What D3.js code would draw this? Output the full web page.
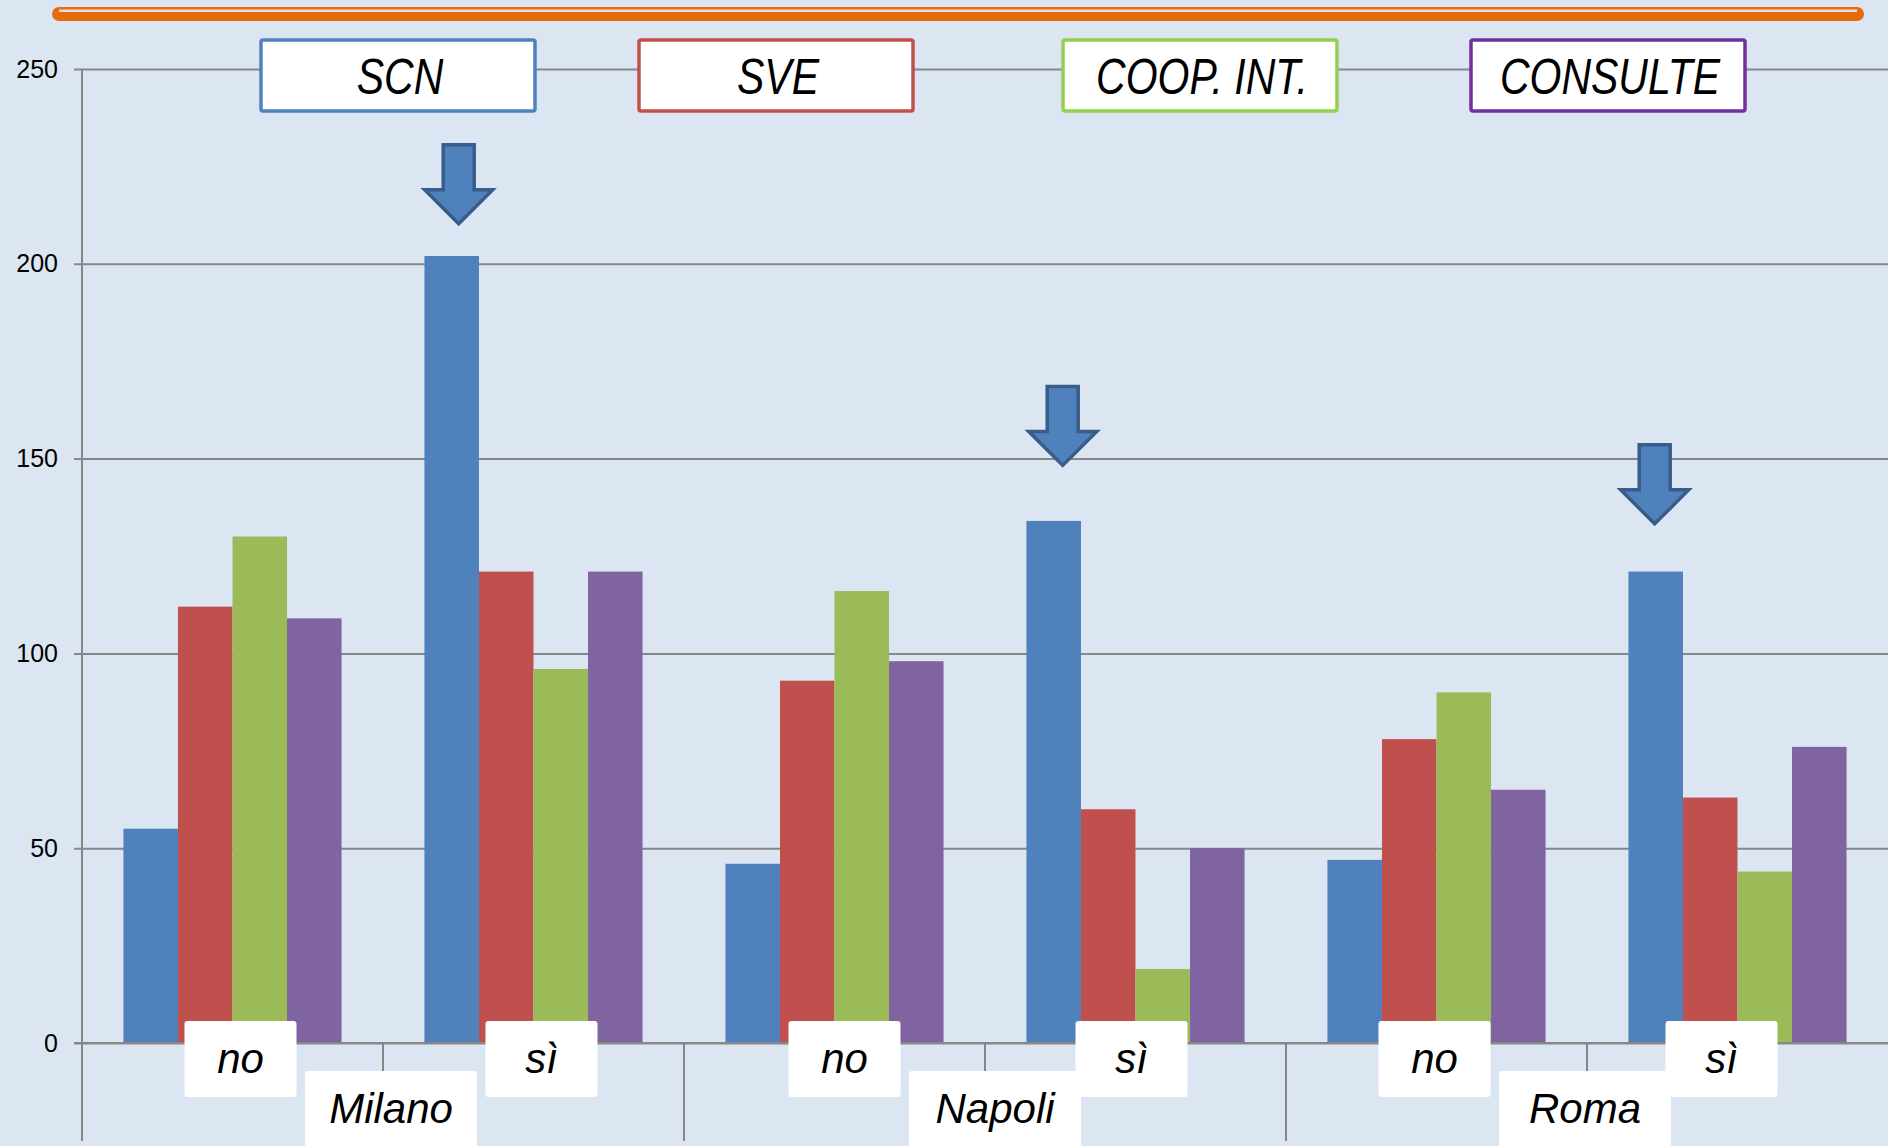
<!DOCTYPE html>
<html>
<head>
<meta charset="utf-8">
<script src="https://cdn.jsdelivr.net/npm/d3@7"></script>
<style>
  html, body { margin: 0; padding: 0; background: #dce6f2; overflow: hidden; }
  text { font-family: "Liberation Sans", Arial, sans-serif; }
</style>
</head>
<body>
<div id="chart"></div>
<script>
// chart data
const cities = ["Milano", "Napoli", "Roma"];
const answers = ["no", "sì"];
const series = ["SCN", "SVE", "COOP. INT.", "CONSULTE"];
const scnValues      = [55, 202, 46, 134, 47, 121];
const sveValues      = [112, 121, 93, 60, 78, 63];
const coopValues     = [130, 96, 116, 19, 90, 44];
const consulteValues = [109, 121, 98, 50, 65, 76];
const yTicks = [0, 50, 100, 150, 200, 250];
// arrows pointing at the "sì" SCN bars (category index, value at arrow tip)
const arrowCats = [1, 3, 5];
const arrowTips = [210, 148, 133];

const fillColors = ["#4f81bd", "#c0504d", "#9bbb59", "#8064a2"];
const legendBorders = ["#4f81bd", "#c0504d", "#92d050", "#7030a0"];

// layout
const W = 1888, H = 1146;
const plotLeft = 82, plotTop = 69, zeroY = 1043;
const legendX = [261, 639, 1063, 1471];
const answerNudge = [8, 8, 10, -4, -2, -16];
const cityNudge = [8, 10, -2];
const arrowNudge = [7, 9, -1];

const categories = [];
cities.forEach(c => answers.forEach(a => categories.push(c + "|" + a)));
const valuesBySeries = [scnValues, sveValues, coopValues, consulteValues];

const svg = d3.select("#chart").append("svg")
    .attr("width", W)
    .attr("height", H);

svg.append("rect").attr("width", W).attr("height", H).attr("fill", "#dce6f2");

// orange rule from the slide title
svg.append("rect")
    .attr("x", 52).attr("y", 7).attr("width", 1812).attr("height", 14)
    .attr("rx", 7).attr("fill", "#e46c0a");
svg.append("rect")
    .attr("x", 59).attr("y", 9.5).attr("width", 1798).attr("height", 2.5)
    .attr("fill", "#e3dfe0");

const x = d3.scaleBand().domain(categories).range([plotLeft, W]).padding(0);
const xs = d3.scaleBand().domain(series).range([0, x.bandwidth()])
    .paddingInner(0).paddingOuter(0.76);
const y = d3.scaleLinear().domain([0, 250]).range([zeroY, plotTop]);

// y axis with gridlines
const yAxis = svg.append("g")
    .attr("transform", "translate(" + plotLeft + ",0)")
    .call(d3.axisLeft(y).tickValues(yTicks).tickSizeInner(-(W - plotLeft)).tickSizeOuter(0).tickPadding(24));
yAxis.select(".domain").remove();
yAxis.selectAll(".tick line")
    .attr("x1", -8)
    .attr("stroke", "#878787")
    .attr("stroke-width", 2);
yAxis.selectAll(".tick text")
    .attr("fill", "#000")
    .style("font-size", "25px")
    .style("font-family", "'Liberation Sans', Arial, sans-serif");

// vertical axis line
svg.append("line")
    .attr("x1", plotLeft).attr("x2", plotLeft)
    .attr("y1", plotTop).attr("y2", 1141)
    .attr("stroke", "#878787").attr("stroke-width", 2);

// category separators below the axis
categories.forEach((c, i) => {
    if (i === 0) return;
    const major = i % 2 === 0;
    svg.append("line")
        .attr("x1", x(c)).attr("x2", x(c))
        .attr("y1", zeroY).attr("y2", major ? 1141 : 1091)
        .attr("stroke", "#878787").attr("stroke-width", 2);
});

// bars
const barData = [];
valuesBySeries.forEach((vals, s) => {
    vals.forEach((v, i) => barData.push({cat: categories[i], series: series[s], s: s, value: v}));
});

svg.append("g")
    .selectAll("rect")
    .data(barData)
    .enter()
    .append("rect")
        .attr("x", d => x(d.cat) + xs(d.series))
        .attr("y", d => y(d.value))
        .attr("width", xs.bandwidth())
        .attr("height", d => y(0) - y(d.value))
        .attr("fill", d => fillColors[d.s]);

// x axis line
svg.append("line")
    .attr("x1", plotLeft - 8).attr("x2", W)
    .attr("y1", zeroY).attr("y2", zeroY)
    .attr("stroke", "#878787").attr("stroke-width", 2);

// arrows
const arrowPath = "M-15.5,-80 L15.5,-80 L15.5,-35 L34,-35 L0,-1 L-34,-35 L-15.5,-35 Z";
arrowCats.forEach((ci, k) => {
    const cx = x(categories[ci]) + xs(series[0]) + xs.bandwidth() / 2 + arrowNudge[k];
    svg.append("path")
        .attr("d", arrowPath)
        .attr("transform", "translate(" + cx + "," + y(arrowTips[k]) + ")")
        .attr("fill", "#4f81bd")
        .attr("stroke", "#385d8a")
        .attr("stroke-width", 3.5)
        .attr("stroke-linejoin", "miter");
});

// legend boxes
const legend = svg.append("g")
    .selectAll("g")
    .data(series)
    .enter()
    .append("g")
        .attr("transform", (d, i) => "translate(" + legendX[i] + ",40)");
legend.append("rect")
    .attr("x", 0).attr("y", 0)
    .attr("width", 274).attr("height", 71)
    .attr("rx", 2)
    .attr("fill", "#fff")
    .attr("stroke", (d, i) => legendBorders[i])
    .attr("stroke-width", 3.5);
legend.append("text")
    .attr("transform", "translate(139,54) scale(0.82,1)")
    .attr("text-anchor", "middle")
    .style("font-size", "50px")
    .style("font-style", "italic")
    .attr("fill", "#000")
    .text(d => d);

// answer labels (no / sì)
const answerLabels = svg.append("g")
    .selectAll("g")
    .data(categories)
    .enter()
    .append("g")
        .attr("transform", (d, i) => "translate(" + (x(d) + x.bandwidth() / 2 + answerNudge[i]) + ",1021)");
answerLabels.append("rect")
    .attr("x", -56).attr("y", 0)
    .attr("width", 112).attr("height", 76)
    .attr("rx", 3)
    .attr("fill", "#fff");
answerLabels.append("text")
    .attr("x", 0).attr("y", 52)
    .attr("text-anchor", "middle")
    .style("font-size", "42px")
    .style("font-style", "italic")
    .attr("fill", "#000")
    .text(d => d.split("|")[1]);

// city labels
const cityLabels = svg.append("g")
    .selectAll("g")
    .data(cities)
    .enter()
    .append("g")
        .attr("transform", (d, i) => "translate(" + (x(d + "|sì") + cityNudge[i]) + ",1071)");
cityLabels.append("rect")
    .attr("x", -86).attr("y", 0)
    .attr("width", 172).attr("height", 90)
    .attr("rx", 3)
    .attr("fill", "#fff");
cityLabels.append("text")
    .attr("x", 0).attr("y", 52)
    .attr("text-anchor", "middle")
    .style("font-size", "42px")
    .style("font-style", "italic")
    .attr("fill", "#000")
    .text(d => d);
</script>
</body>
</html>
